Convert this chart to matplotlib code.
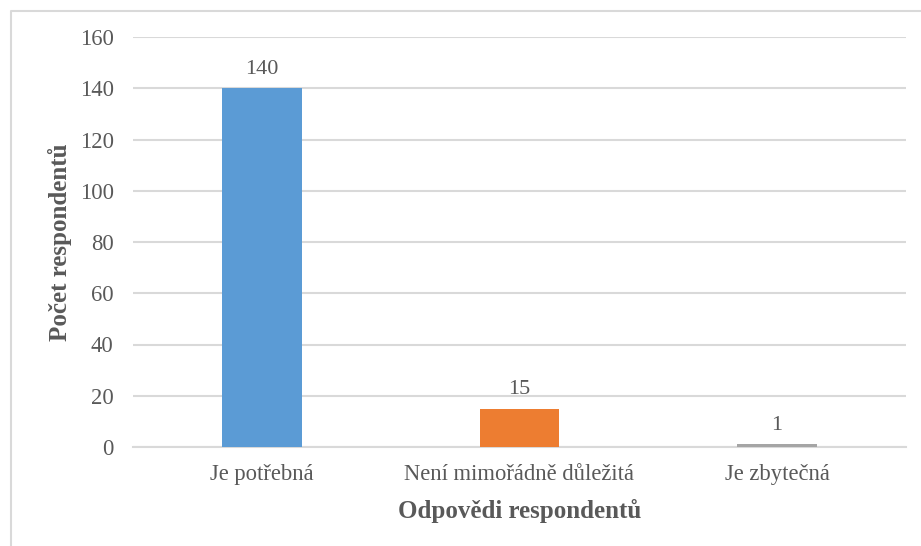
import matplotlib
matplotlib.use("Agg")
import matplotlib.pyplot as plt
from matplotlib.lines import Line2D

categories = ["Je potřebná", "Není mimořádně důležitá", "Je zbytečná"]
values = [140, 15, 1]
colors = ["#5B9BD5", "#ED7D31", "#A5A5A5"]
yticks = [0, 20, 40, 60, 80, 100, 120, 140, 160]

plt.rcParams['font.family'] = ['Liberation Serif', 'DejaVu Serif']

W, H = 921, 546
fig = plt.figure(figsize=(W/100, H/100), dpi=100)
ax = fig.add_axes([133/W, 1-447/H, (906-133)/W, (447-37)/H])

x = list(range(len(categories)))
bars = ax.bar(x, values, width=0.31, color=colors, zorder=3)
ax.set_xlim(-0.5, 2.5)
ax.set_ylim(0, 160)
ax.set_yticks(yticks)
ax.set_yticklabels([str(t) for t in yticks])
ax.set_xticks(x)
ax.set_xticklabels(categories)

txt = "#595959"
ax.tick_params(axis='both', length=0, labelsize=16.3, colors=txt)
ax.tick_params(axis='y', pad=14)
ax.tick_params(axis='x', pad=12)
ax.grid(axis='y', color='#d9d9d9', linewidth=1.5, zorder=0)
for s in ['top', 'right', 'left']:
    ax.spines[s].set_visible(False)
ax.spines['bottom'].set_color('#d9d9d9')
ax.spines['bottom'].set_linewidth(1.5)

for b, v in zip(bars, values):
    ax.annotate(str(v), (b.get_x()+b.get_width()/2, v), xytext=(0, 7),
                textcoords='offset points', ha='center', va='bottom',
                fontsize=16, color=txt)

ax.set_xlabel("Odpovědi respondentů", fontsize=18, fontweight='bold', color=txt, labelpad=10)
ax.set_ylabel("Počet respondentů", fontsize=18, fontweight='bold', color=txt, labelpad=5.5)

# outer border (left and top)
bx = 10.5/W
by = 1 - 10.5/H
fig.add_artist(Line2D([bx, bx, 1], [0, by, by], transform=fig.transFigure,
                      color='#d9d9d9', linewidth=1.5))

fig.savefig("out.png", dpi=100)
